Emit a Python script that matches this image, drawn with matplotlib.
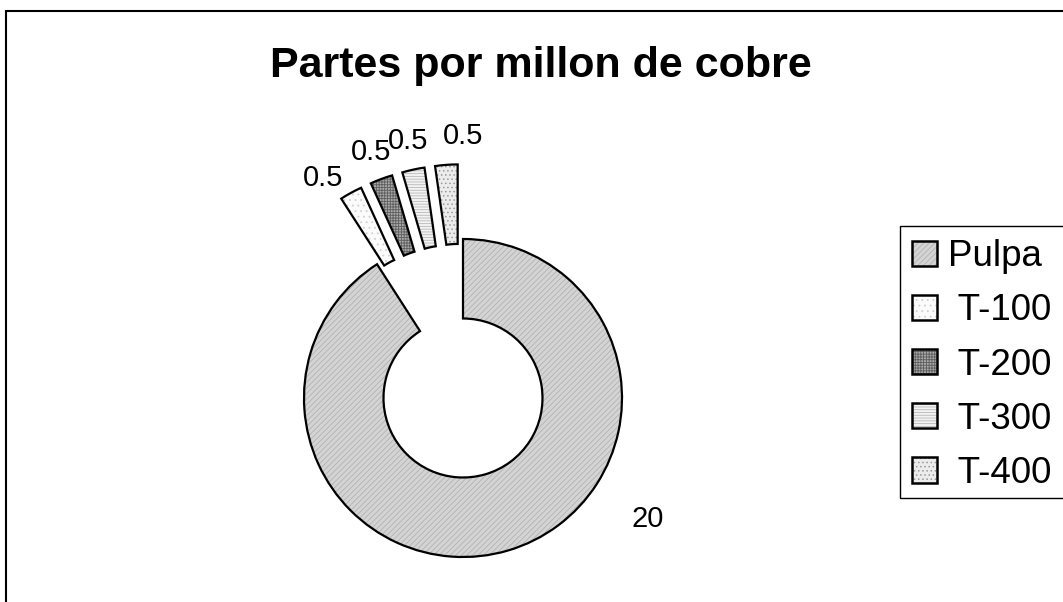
import numpy as np
import matplotlib
matplotlib.use("Agg")
import matplotlib.pyplot as plt
from matplotlib.patches import Wedge, Patch, Rectangle
from matplotlib.legend_handler import HandlerTuple

# ---- data ----
categories = ["Pulpa", " T-100", " T-200", " T-300", " T-400"]
values = [20, 0.5, 0.5, 0.5, 0.5]
value_labels = ["20", "0.5", "0.5", "0.5", "0.5"]
title = "Partes por millon de cobre"

# ---- style ----
face_colors = ["#d4d4d4", "#fbfbfb", "#a9a9a9", "#f3f3f3", "#ececec"]
hatch_colors = ["#b2b2b2", "#d0d0d0", "#5e5e5e", "#b8b8b8", "#9a9a9a"]
hatches = ["//////", "...", "++++++", "------", "...."]
explode = [0, 0.47, 0.47, 0.47, 0.47]
# label placement (polar, relative to donut centre, in radius units / degrees)
label_angles = [-33.2, 122.5, 110.6, 102.0, 90.0]
label_dists = [1.39, 1.64, 1.65, 1.655, 1.65]

plt.rcParams['font.family'] = ['Liberation Sans', 'DejaVu Sans']
plt.rcParams['hatch.linewidth'] = 0.6

W, H = 1063, 602
fig = plt.figure(figsize=(W / 100, H / 100), dpi=100)
fig.patch.set_facecolor("white")

# axes covering whole figure; 1 data unit = 159 px; donut centre at (463, 398) px from top-left
scale = 159.0
cx, cy = 463.0, 398.0
ax = fig.add_axes([0, 0, 1, 1])
ax.axis("off")

wedges, _ = ax.pie(values, explode=explode, startangle=90, counterclock=False,
                   radius=1.0, colors=face_colors,
                   wedgeprops=dict(width=0.5, edgecolor="none", linewidth=0))
ax.set_xlim(-cx / scale, (W - cx) / scale)
ax.set_ylim(-(H - cy) / scale, cy / scale)
ax.set_aspect("auto")

handles = []
for w, fc, hc, ht in zip(wedges, face_colors, hatch_colors, hatches):
    hw = Wedge(w.center, w.r, w.theta1, w.theta2, width=w.width,
               facecolor="none", edgecolor=hc, hatch=ht, linewidth=0, zorder=w.get_zorder() + 0.1)
    ow = Wedge(w.center, w.r, w.theta1, w.theta2, width=w.width,
               facecolor="none", edgecolor="black", linewidth=1.6, zorder=w.get_zorder() + 0.2)
    ax.add_patch(hw)
    ax.add_patch(ow)
    h = (Patch(facecolor=fc, edgecolor="none", linewidth=0),
         Patch(facecolor="none", edgecolor=hc, hatch=ht, linewidth=0),
         Patch(facecolor="none", edgecolor="black", linewidth=1.8))
    handles.append(h)

for lab, ang, dist in zip(value_labels, label_angles, label_dists):
    a = np.deg2rad(ang)
    ax.text(dist * np.cos(a), dist * np.sin(a), lab, ha="center", va="center",
            fontsize=21, color="black")

fig.text(541 / W, 1 - 77 / H, title, ha="center", va="baseline",
         fontsize=31, fontweight="bold", color="black")

leg = fig.legend(handles, categories, handler_map={tuple: HandlerTuple(ndivide=1, pad=0)},
                 loc="upper left", bbox_to_anchor=(902 / W, 1 - 229 / H),
                 bbox_transform=fig.transFigure, borderaxespad=0,
                 fontsize=26.5, frameon=False,
                 handlelength=0.68, handleheight=0.68, handletextpad=0.3,
                 labelspacing=0.52, borderpad=0.28)

# legend frame (extends past the right edge of the picture)
fig.patches.append(Rectangle((900 / W, 1 - 498 / H), 200 / W, (498 - 226) / H,
                             transform=fig.transFigure, facecolor="none",
                             edgecolor="black", linewidth=1.0, zorder=0))

# outer chart-area border (left and top visible)
fig.patches.append(Rectangle((6 / W, -0.2), 2.0, 1.2 - 11 / H, transform=fig.transFigure,
                             facecolor="none", edgecolor="black", linewidth=1.5))

fig.savefig("out.png", dpi=100)
